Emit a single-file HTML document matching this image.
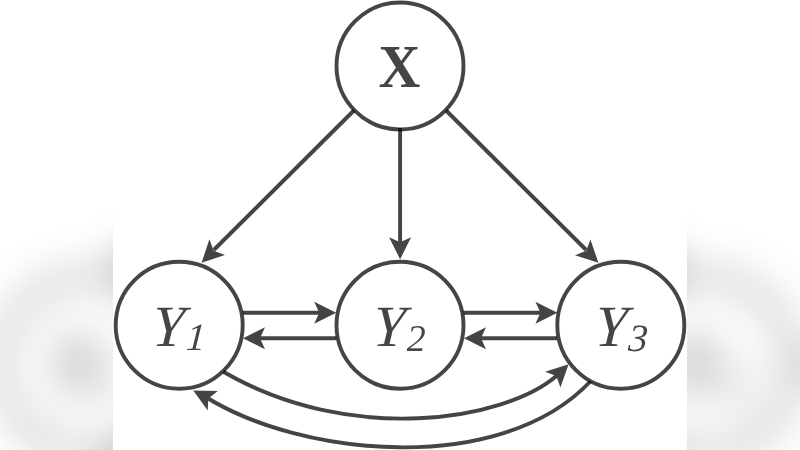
<!DOCTYPE html>
<html>
<head>
<meta charset="utf-8">
<title>Graph</title>
<style>
html,body{margin:0;padding:0;background:#fff;}
body{width:800px;height:450px;overflow:hidden;position:relative;}
svg{position:absolute;left:0;top:0;display:block;}
text{font-family:"Liberation Serif","DejaVu Serif",serif;}
</style>
</head>
<body>
<svg width="800" height="450" viewBox="0 0 800 450">
<defs>
  <filter id="blur" color-interpolation-filters="sRGB" x="-20%" y="-20%" width="140%" height="140%">
    <feGaussianBlur stdDeviation="21"/>
  </filter>
  <clipPath id="mid"><rect x="113" y="0" width="574" height="450"/></clipPath>
  <g id="diagram" fill="none" stroke-width="3.9">
    <circle cx="400" cy="66" r="63.5" stroke="#000" stroke-opacity="0.73"/>
    <circle cx="179.2" cy="325.2" r="63.5" stroke="#000" stroke-opacity="0.73"/>
    <circle cx="400" cy="325.2" r="63.5" stroke="#000" stroke-opacity="0.73"/>
    <circle cx="620.8" cy="325.2" r="63.5" stroke="#000" stroke-opacity="0.73"/>
    <g opacity="0.73" stroke="#000" fill="#000"><line x1="353.9" y1="110.5" x2="213.8" y2="250"/><g stroke="none"><path d="M0 0 L-22 -11 L-17 0 L-22 11 Z" transform="translate(201.6 262.7) rotate(135)"/></g></g>
    <g opacity="0.73" stroke="#000" fill="#000"><line x1="400.1" y1="128" x2="400.1" y2="243"/><g stroke="none"><path d="M0 0 L-22 -11 L-17 0 L-22 11 Z" transform="translate(400.1 259.3) rotate(90)"/></g></g>
    <g opacity="0.73" stroke="#000" fill="#000"><line x1="446.1" y1="110.5" x2="586.2" y2="250"/><g stroke="none"><path d="M0 0 L-22 -11 L-17 0 L-22 11 Z" transform="translate(598.4 262.7) rotate(44.5)"/></g></g>
    <g opacity="0.73" stroke="#000" fill="#000"><line x1="242.8" y1="312.7" x2="320" y2="312.7"/><g stroke="none"><path d="M0 0 L-22 -11 L-17 0 L-22 11 Z" transform="translate(336.2 312.7) rotate(0)"/></g></g>
    <g opacity="0.73" stroke="#000" fill="#000"><line x1="336.3" y1="338.3" x2="259" y2="338.3"/><g stroke="none"><path d="M0 0 L-22 -11 L-17 0 L-22 11 Z" transform="translate(243 338.3) rotate(180)"/></g></g>
    <g opacity="0.73" stroke="#000" fill="#000"><line x1="463.6" y1="312.7" x2="541" y2="312.7"/><g stroke="none"><path d="M0 0 L-22 -11 L-17 0 L-22 11 Z" transform="translate(557.4 312.7) rotate(0)"/></g></g>
    <g opacity="0.73" stroke="#000" fill="#000"><line x1="557" y1="338.3" x2="480" y2="338.3"/><g stroke="none"><path d="M0 0 L-22 -11 L-17 0 L-22 11 Z" transform="translate(464 338.3) rotate(180)"/></g></g>
    <g opacity="0.73" stroke="#000" fill="none"><path d="M223.4 371.8 C 350.4 445.7, 505.4 420.5, 557 375.5"/><g stroke="none" fill="#000"><path d="M0 0 L-22 -11 L-17 0 L-22 11 Z" transform="translate(568.6 364.3) rotate(-44)"/></g></g>
    <g opacity="0.73" stroke="#000" fill="none"><path d="M590.3 381.5 C 499.8 477.1, 299.8 456.4, 205 396.5"/><g stroke="none" fill="#000"><path d="M0 0 L-22 -11 L-17 0 L-22 11 Z" transform="translate(193.3 390.5) rotate(207.7)"/></g></g>
    <g stroke="none" fill="#000" opacity="0.73">
      <text transform="translate(399.55 86.9) scale(0.94 1)" x="0" y="0" font-size="61.7" font-weight="bold" text-anchor="middle">X</text>
      <text transform="translate(151.35 345.6) skewX(-3.5)" x="0" y="0" font-size="58.5" font-style="italic">Y</text><text transform="translate(185.4 350.4) skewX(-4)" x="0" y="0" font-size="38.5" font-style="italic">1</text>
      <text transform="translate(372.05 345.6) skewX(-3.5)" x="0" y="0" font-size="58.5" font-style="italic">Y</text><text x="406.75" y="350.6" font-size="38" font-style="italic">2</text>
      <text transform="translate(594.05 345.6) skewX(-3.5)" x="0" y="0" font-size="58.5" font-style="italic">Y</text><text transform="translate(627.8 351.2) skewX(-4)" x="0" y="0" font-size="38.7" font-style="italic">3</text>
    </g>
  </g>
</defs>
<rect x="0" y="0" width="800" height="450" fill="#fff"/>
<g filter="url(#blur)">
  <rect x="-200" y="-200" width="1200" height="850" fill="#fff"/>
  <use href="#diagram" transform="translate(-160.5 -88.6) scale(1.3937)"/>
  <rect x="800" y="361" width="120" height="7" fill="#000" fill-opacity="0.73"/>
</g>
<rect x="113" y="0" width="574" height="450" fill="#fff"/>
<g clip-path="url(#mid)">
  <use href="#diagram"/>
</g>
</svg>
</body>
</html>
